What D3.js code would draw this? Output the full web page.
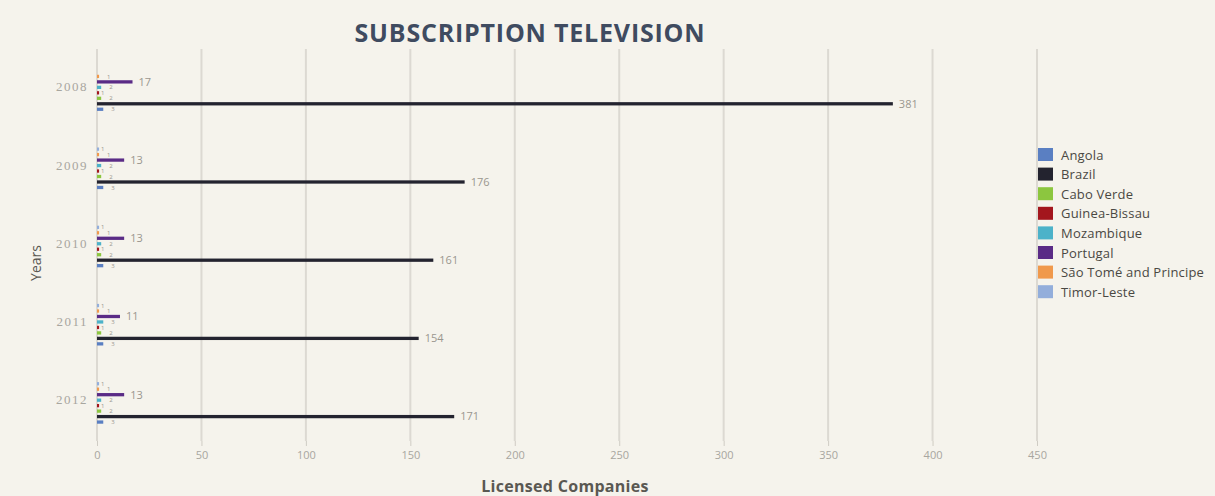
<!DOCTYPE html>
<html>
<head>
<meta charset="utf-8">
<script src="https://cdn.jsdelivr.net/npm/d3@7"></script>
<style>
  html, body { margin: 0; padding: 0; background: #f5f3ec; }
  svg { display: block; }
</style>
</head>
<body>
<svg id="chart" width="1215" height="496"></svg>
<script>
// Licensed subscription-television companies per country and year
const years = ["2008", "2009", "2010", "2011", "2012"];
const countries = ["Angola", "Brazil", "Cabo Verde", "Guinea-Bissau", "Mozambique", "Portugal", "São Tomé and Principe", "Timor-Leste"];
const colors = ["#5a7fc2", "#23232f", "#8cc63f", "#a3161d", "#4cb2c9", "#5a2b86", "#f0994c", "#93aedb"];

const angola       = [3, 3, 3, 3, 3];
const brazil       = [381, 176, 161, 154, 171];
const caboVerde    = [2, 2, 2, 2, 2];
const guineaBissau = [1, 1, 1, 1, 1];
const mozambique   = [2, 2, 2, 3, 2];
const portugal     = [17, 13, 13, 11, 13];
const saoTome      = [1, 1, 1, 1, 1];
const timorLeste   = [0, 1, 1, 1, 1];

const xTicks = [0, 50, 100, 150, 200, 250, 300, 350, 400, 450];

const seriesValues = [angola, brazil, caboVerde, guineaBissau, mozambique, portugal, saoTome, timorLeste];

const svg = d3.select("#chart");
const W = 1215, H = 496;

svg.append("rect").attr("width", W).attr("height", H).attr("fill", "#f5f3ec");

const plotTop = 51, plotBottom = 442;
const x = d3.scaleLinear().domain([0, 450]).range([97, 1037]);
const y = d3.scaleBand().domain(years).range([plotTop, plotBottom]).padding(0);

// countries stacked top-to-bottom in reverse order inside each year group
const groupSpan = 46;
const innerOrder = countries.slice().reverse();
const yInner = d3.scaleBand()
  .domain(innerOrder)
  .range([0, groupSpan])
  .padding(0.4);

// vertical grid lines
const gridG = svg.append("g");
gridG.selectAll("line").data(xTicks).join("line")
  .attr("x1", d => x(d)).attr("x2", d => x(d))
  .attr("y1", plotTop - 2).attr("y2", plotBottom - 1)
  .attr("stroke", "#dcd9d2").attr("stroke-width", 2);

// x axis tick marks and labels
const xAxis = d3.axisBottom(x).tickValues(xTicks).tickSize(5).tickPadding(5);
const xg = svg.append("g").attr("transform", `translate(0,${plotBottom - 1})`).call(xAxis);
xg.select(".domain").remove();
xg.selectAll(".tick line").attr("stroke", "#cfccc4");
xg.selectAll(".tick text").attr("fill", "#a8a69f").attr("font-family", "'Open Sans', sans-serif").attr("font-size", 11);

// y axis labels
const yAxis = d3.axisLeft(y).tickSize(0).tickPadding(9);
const yg = svg.append("g").attr("transform", `translate(97,0)`).call(yAxis);
yg.select(".domain").remove();
yg.selectAll(".tick text")
  .attr("fill", "#a8a69f")
  .attr("font-family", "'Liberation Serif', serif")
  .attr("font-size", 13)
  .attr("letter-spacing", 1.5)
  .attr("dy", "0.1em");

// bars
const rows = [];
years.forEach((yr, yi) => {
  countries.forEach((c, ci) => {
    rows.push({ year: yr, country: c, value: seriesValues[ci][yi], color: colors[ci], slot: innerOrder.indexOf(c) });
  });
});
const shown = rows.filter(d => d.value > 0);
const rowY = d => y(d.year) + y.bandwidth() / 2 - groupSpan / 2 + yInner(d.country);

const barG = svg.append("g");
barG.selectAll("rect").data(shown).join("rect")
  .attr("x", x(0))
  .attr("y", rowY)
  .attr("height", yInner.bandwidth())
  .attr("width", d => x(d.value) - x(0))
  .attr("fill", d => d.color);

// value labels; the small ones alternate sideways so they stay readable
barG.selectAll("text").data(shown).join("text")
  .attr("x", d => d.value >= 10 ? x(d.value) + 6 : x(d.value) + (d.slot % 2 === 0 ? 2 : 8))
  .attr("y", d => rowY(d) + yInner.bandwidth() / 2)
  .attr("dy", "0.35em")
  .attr("fill", "#9a978f")
  .attr("font-family", "'Open Sans', sans-serif")
  .attr("font-size", d => d.value >= 10 ? 11 : 6)
  .text(d => d.value);

// title
svg.append("text")
  .attr("x", 530).attr("y", 42)
  .attr("text-anchor", "middle")
  .attr("fill", "#3f4b60")
  .attr("font-family", "'Open Sans', sans-serif")
  .attr("font-weight", "bold")
  .attr("font-size", 25)
  .attr("letter-spacing", 0.8)
  .text("SUBSCRIPTION TELEVISION");

// axis titles
svg.append("text")
  .attr("x", 565).attr("y", 492)
  .attr("text-anchor", "middle")
  .attr("fill", "#5a5852")
  .attr("font-family", "'Open Sans', sans-serif")
  .attr("font-weight", "bold")
  .attr("font-size", 16)
  .attr("letter-spacing", 0.3)
  .text("Licensed Companies");

svg.append("text")
  .attr("transform", "translate(41,263) rotate(-90)")
  .attr("text-anchor", "middle")
  .attr("fill", "#5a5852")
  .attr("font-family", "'Open Sans', sans-serif")
  .attr("font-size", 14)
  .text("Years");

// legend
const legend = svg.append("g").attr("transform", "translate(1038,148)");
const li = legend.selectAll("g").data(countries).join("g")
  .attr("transform", (d, i) => `translate(0,${i * 19.6})`);
li.append("rect").attr("width", 15).attr("height", 13).attr("fill", (d, i) => colors[i]);
li.append("text")
  .attr("x", 23).attr("y", 7).attr("dy", "0.35em")
  .attr("fill", "#4a4843")
  .attr("font-family", "'Open Sans', sans-serif")
  .attr("font-size", 13)
  .attr("letter-spacing", 0.2)
  .text(d => d);
</script>
</body>
</html>
